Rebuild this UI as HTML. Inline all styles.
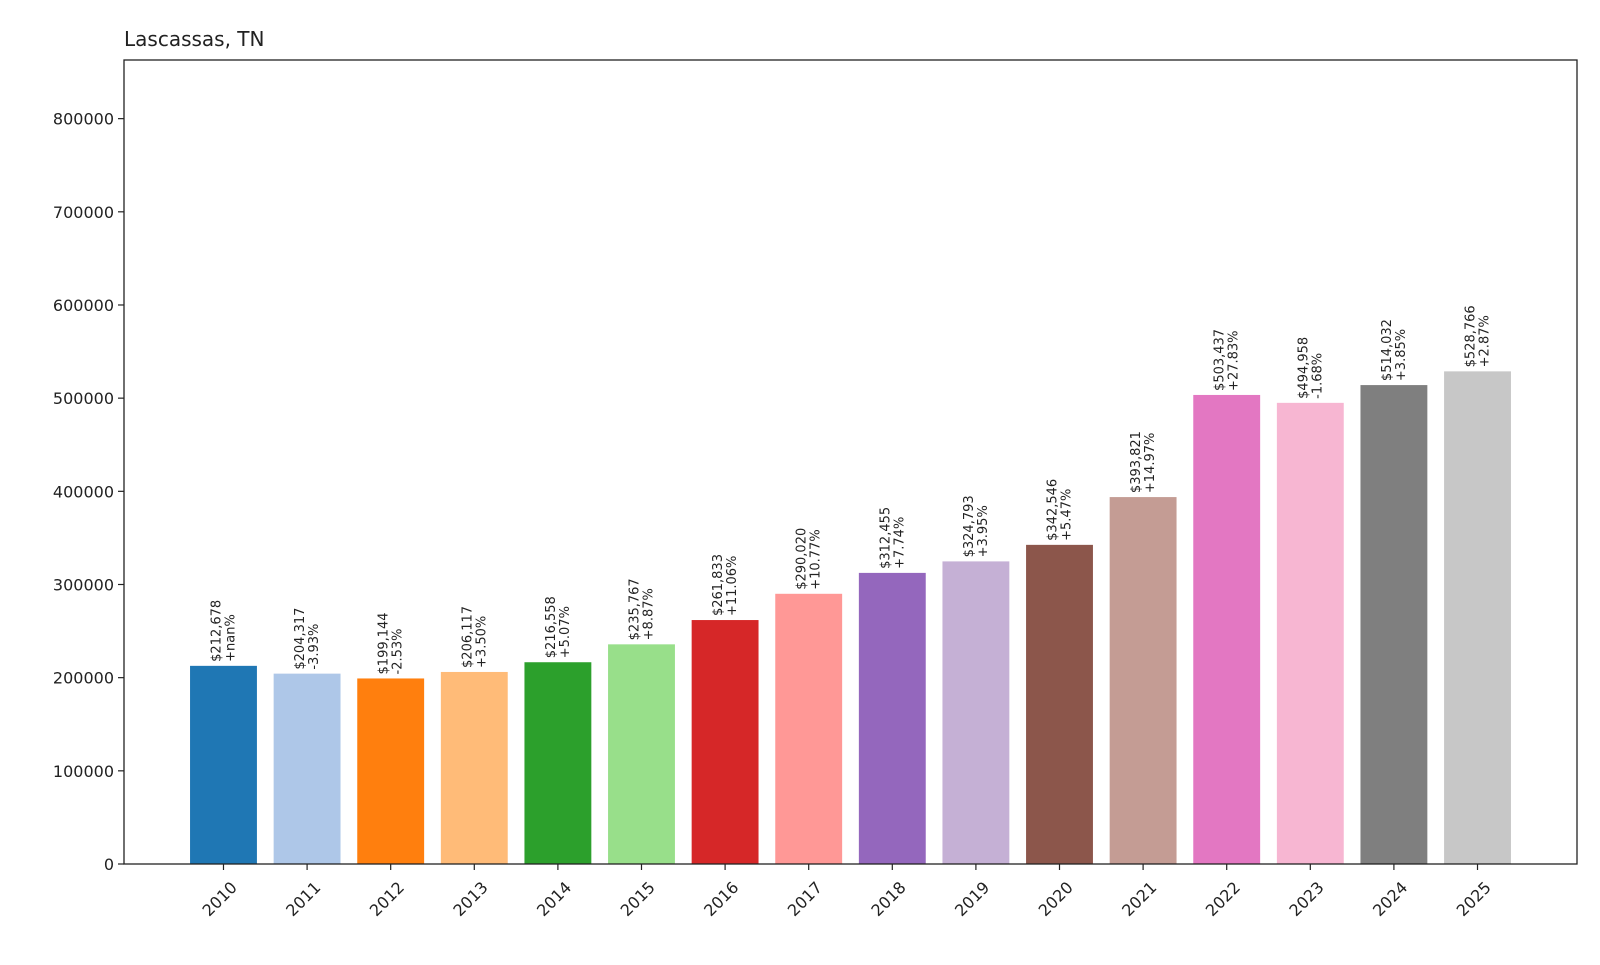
<!DOCTYPE html>
<html><head><meta charset="utf-8"><style>
body{margin:0;background:#fff;}
svg text{font-family:"DejaVu Sans","Liberation Sans",sans-serif;fill:#222;}
</style></head><body>
<svg id="chart" width="1600" height="960" xmlns="http://www.w3.org/2000/svg">
<rect width="1600" height="960" fill="#fff"/>
<text x="124" y="46" font-size="20">Lascassas, TN</text>
<g id="bars"></g><g id="axes"></g>
</svg>
<script>
const years=["2010","2011","2012","2013","2014","2015","2016","2017","2018","2019","2020","2021","2022","2023","2024","2025"];
const values=[212678,204317,199144,206117,216558,235767,261833,290020,312455,324793,342546,393821,503437,494958,514032,528766];
const changes=["+nan%","-3.93%","-2.53%","+3.50%","+5.07%","+8.87%","+11.06%","+10.77%","+7.74%","+3.95%","+5.47%","+14.97%","+27.83%","-1.68%","+3.85%","+2.87%"];
const yTicks=[0,100000,200000,300000,400000,500000,600000,700000,800000];
const colors=["#1f77b4","#aec7e8","#ff7f0e","#ffbb78","#2ca02c","#98df8a","#d62728","#ff9896","#9467bd","#c5b0d5","#8c564b","#c49c94","#e377c2","#f7b6d2","#7f7f7f","#c7c7c7"];
const L=124,R=1577,T=60,B=864;
const yMax=Math.max(...values)*1.632;
const xMin=-1.19,xMax=years.length-1+1.19;
const x=i=>L+(i-xMin)/(xMax-xMin)*(R-L);
const y=v=>B-v/yMax*(B-T);
const bw=0.8*(R-L)/(xMax-xMin);
const NS="http://www.w3.org/2000/svg";
function mk(tag,attrs,parent){const e=document.createElementNS(NS,tag);for(const k in attrs)e.setAttribute(k,attrs[k]);parent.appendChild(e);return e;}
const bars=document.getElementById('bars'),axes=document.getElementById('axes');
values.forEach((v,i)=>{
 const r=mk('rect',{x:x(i)-bw/2,y:y(v),width:bw,height:B-y(v),fill:colors[i]},bars);
 
 
 const cx=x(i),ty=y(v)-4;
 const t=mk('text',{transform:`translate(${cx},${ty}) rotate(-90)`,'font-size':13,'text-anchor':'start'},bars);
 
 
 const a=mk('tspan',{x:0,y:-3},t);a.textContent='$'+v.toLocaleString('en-US');
 const b=mk('tspan',{x:0,y:11},t);b.textContent=changes[i];
 const tk=mk('line',{x1:cx,x2:cx,y1:B,y2:B+6,stroke:'#222','stroke-width':1.2},axes);
 
 
 const xl=mk('text',{transform:`translate(${cx+6},${B+16}) rotate(-45)`,'font-size':16,'text-anchor':'end','dominant-baseline':'hanging'},axes);
 
 
 xl.textContent=years[i];
});
yTicks.forEach(v=>{
 const yy=y(v);
 const tk=mk('line',{x1:L-6,x2:L,y1:yy,y2:yy,stroke:'#222','stroke-width':1.2},axes);
 
 
 const t=mk('text',{x:L-10,y:yy+6,'font-size':16,'text-anchor':'end'},axes);
 
 
 t.textContent=v;
});
const fr=mk('rect',{x:L,y:T,width:R-L,height:B-T,fill:'none',stroke:'#222','stroke-width':1.3},axes);


</script>
</body></html>
